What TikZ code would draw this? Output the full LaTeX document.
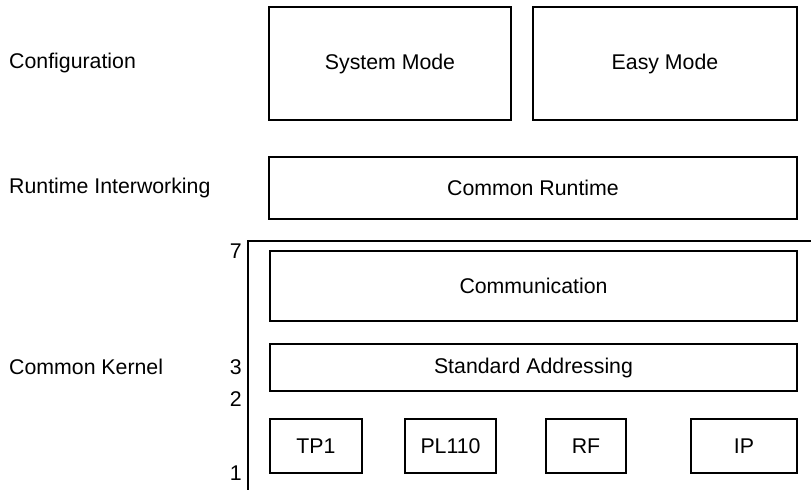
\documentclass[tikz,border=0pt]{standalone}
\usepackage{fontspec}
\setmainfont{Liberation Sans}
\begin{document}
\begin{tikzpicture}[x=1pt,y=-1pt,
  box/.style={draw=black, line width=1.3pt, inner sep=0pt, font=\fontsize{21.3}{25}\selectfont},
  lbl/.style={anchor=west, inner sep=0pt, font=\fontsize{21.3}{25}\selectfont},
  num/.style={anchor=east, inner sep=0pt, font=\fontsize{21.3}{25}\selectfont}]
\useasboundingbox[fill=white] (0,0) rectangle (811,492);
% left labels
\node[lbl] (cfg) at (9,63) {Configuration};
\node[lbl] (rti) at (9,188) {Runtime Interworking};
\node[lbl] (ck) at (9,367) {Common Kernel};
% boxes
\node[box, minimum width=242, minimum height=113] (sys) at (390,63.5) {System Mode};
\node[box, minimum width=264, minimum height=113] (easy) at (665,63.5) {Easy Mode};
\node[box, minimum width=528, minimum height=62] (crt) at (533,188) {Common Runtime};
\node[box, minimum width=527, minimum height=70] (comm) at (533.5,286) {Communication};
\node[box, minimum width=527, minimum height=47] (std) at (533.5,367.5) {Standard Addressing};
\node[box, minimum width=92, minimum height=54] (tp) at (316,446) {TP1};
\node[box, minimum width=91, minimum height=54] (pl) at (450.5,446) {PL110};
\node[box, minimum width=80, minimum height=54] (rf) at (586,446) {RF};
\node[box, minimum width=106, minimum height=54] (ip) at (744,446) {IP};
% kernel frame
\coordinate (ktr) at (811,241);
\coordinate (ktl) at (248,241);
\coordinate (kbl) at (248,490);
\draw[line width=1.3pt] (ktr) -- (ktl) -- (kbl);
% layer numbers
\node[num] (n7) at (242,251) {7};
\node[num] (n3) at (242,367) {3};
\node[num] (n2) at (242,399) {2};
\node[num] (n1) at (242,473) {1};
\end{tikzpicture}
\end{document}
